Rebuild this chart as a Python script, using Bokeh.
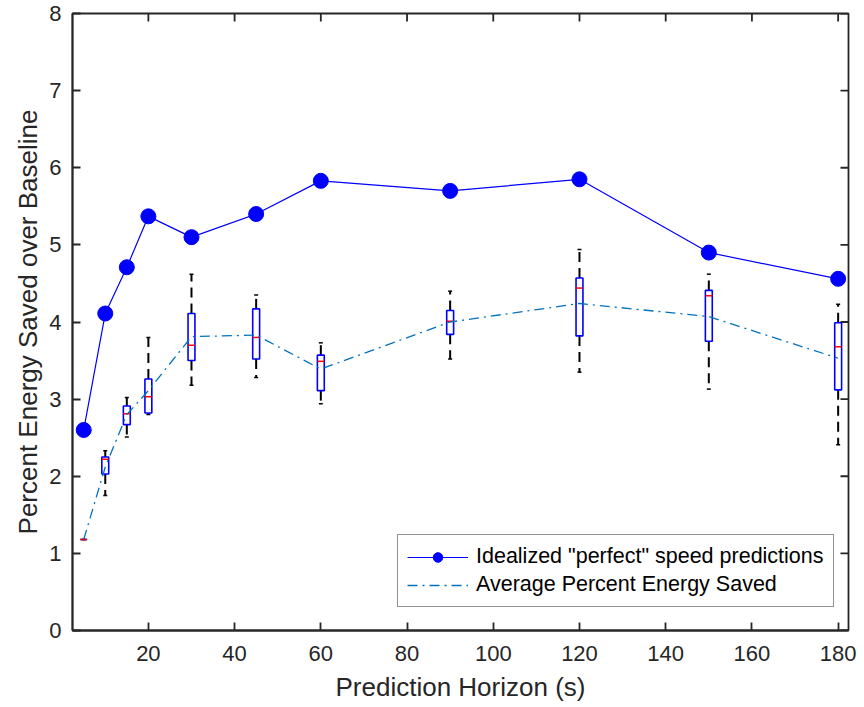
from bokeh.plotting import figure
from bokeh.models import Range1d, FixedTicker, Legend, LegendItem, ColumnDataSource
from bokeh.embed import file_html
from bokeh.resources import INLINE

horizon = [5, 10, 15, 20, 30, 45, 60, 90, 120, 150, 180]
perfect = [2.60, 4.11, 4.71, 5.37, 5.10, 5.40, 5.83, 5.70, 5.85, 4.90, 4.56]
average = [1.18, 2.12, 2.80, 3.11, 3.81, 3.83, 3.39, 4.00, 4.24, 4.07, 3.53]
q1 = [1.18, 2.03, 2.67, 2.82, 3.50, 3.52, 3.11, 3.84, 3.82, 3.75, 3.12]
med = [1.18, 2.22, 2.81, 3.03, 3.70, 3.80, 3.49, 4.01, 4.44, 4.34, 3.68]
q3 = [1.18, 2.25, 2.91, 3.26, 4.11, 4.17, 3.57, 4.15, 4.57, 4.41, 3.99]
wlo = [1.18, 1.75, 2.51, 2.80, 3.18, 3.28, 2.94, 3.52, 3.35, 3.13, 2.41]
whi = [1.18, 2.33, 3.02, 3.80, 4.62, 4.35, 3.73, 4.40, 4.94, 4.62, 4.23]
xticks = [20, 40, 60, 80, 100, 120, 140, 160, 180]
yticks = [0, 1, 2, 3, 4, 5, 6, 7, 8]

X0, X1 = 2.4, 182.4
Y0, Y1 = 0, 8
BW = 1.6  # box width in x units
FONT = "Liberation Sans"
AX = "#262626"

W, H = 864, 707
BL, BR, BT, BB = 72, 16, 13, 77
TICK = 8  # px
tick_dx = TICK * (X1 - X0) / (W - BL - BR)
tick_dy = TICK * (Y1 - Y0) / (H - BT - BB)

src = ColumnDataSource(dict(
    x=horizon, perfect=perfect, average=average, q1=q1, med=med, q3=q3,
    wlo=wlo, whi=whi,
    left=[h - BW / 2 for h in horizon], right=[h + BW / 2 for h in horizon],
))

p = figure(width=W, height=H, output_backend="svg", toolbar_location=None,
           x_range=Range1d(X0, X1), y_range=Range1d(Y0, Y1),
           min_border_left=BL, min_border_right=BR, min_border_top=BT, min_border_bottom=BB)
p.grid.visible = False
p.background_fill_color = "white"
p.outline_line_color = AX
p.outline_line_width = 1.8

# mirrored ticks on top and right edges
p.segment(x0=xticks, y0=[Y1] * len(xticks), x1=xticks, y1=[Y1 - tick_dy] * len(xticks),
          line_color=AX, line_width=1.8)
p.segment(x0=[X1] * len(yticks), y0=yticks, x1=[X1 - tick_dx] * len(yticks), y1=yticks,
          line_color=AX, line_width=1.8)

# boxplot pieces
p.segment(x0="x", y0="q3", x1="x", y1="whi", source=src, line_color="black",
          line_width=2, line_dash="10 6")
p.segment(x0="x", y0="q1", x1="x", y1="wlo", source=src, line_color="black",
          line_width=2, line_dash="10 6")
p.scatter(x="x", y="whi", source=src, marker="dash", size=4, line_color="black", line_width=1.5)
p.scatter(x="x", y="wlo", source=src, marker="dash", size=4, line_color="black", line_width=1.5)
p.quad(left="left", right="right", bottom="q1", top="q3", source=src,
       fill_color=None, line_color="#0000FF", line_width=1.6)
p.segment(x0="left", y0="med", x1="right", y1="med", source=src,
          line_color="#FF0000", line_width=1.5)

# average line
avg_r = p.line(x="x", y="average", source=src, line_color="#0072BD", line_width=1.3,
               line_dash="10 5 2 5")

# perfect line
perf_l = p.line(x="x", y="perfect", source=src, line_color="#0000FF", line_width=1.2)
perf_c = p.scatter(x="x", y="perfect", source=src, size=15, fill_color="#0000FF",
                   line_color="#0000FF")

legend = Legend(items=[
    LegendItem(label='Idealized "perfect" speed predictions', renderers=[perf_l, perf_c]),
    LegendItem(label="Average Percent Energy Saved", renderers=[avg_r]),
], location=(325, 23))
legend.label_text_font = FONT
legend.label_text_font_size = "21.5px"
legend.label_text_color = "black"
legend.glyph_width = 61
legend.glyph_height = 24
legend.label_standoff = 8
legend.label_height = 24
legend.padding = 9
legend.spacing = 3
legend.margin = 0
legend.border_line_color = AX
legend.border_line_width = 1
legend.background_fill_alpha = 1
p.add_layout(legend, "center")

for ax in (p.xaxis[0], p.yaxis[0]):
    ax.axis_line_color = AX
    ax.axis_line_width = 1.8
    ax.major_tick_line_color = AX
    ax.major_tick_line_width = 1.8
    ax.major_tick_in = TICK
    ax.major_tick_out = 0
    ax.minor_tick_line_color = None
    ax.major_label_text_font = FONT
    ax.major_label_text_font_size = "22px"
    ax.major_label_text_color = AX
    ax.major_label_text_line_height = 1.0
    ax.axis_label_text_font = FONT
    ax.axis_label_text_font_size = "26px"
    ax.axis_label_text_font_style = "normal"
    ax.axis_label_text_color = AX
    ax.axis_label_text_line_height = 1.0

p.xaxis.ticker = FixedTicker(ticks=xticks)
p.yaxis.ticker = FixedTicker(ticks=yticks)
p.xaxis.axis_label = "Prediction Horizon (s)"
p.yaxis.axis_label = "Percent Energy Saved over Baseline"
p.xaxis.major_label_standoff = 15
p.xaxis.axis_label_standoff = 8
p.yaxis.major_label_standoff = 11
p.yaxis.axis_label_standoff = 3

open("out.html", "w").write(file_html(p, INLINE))
